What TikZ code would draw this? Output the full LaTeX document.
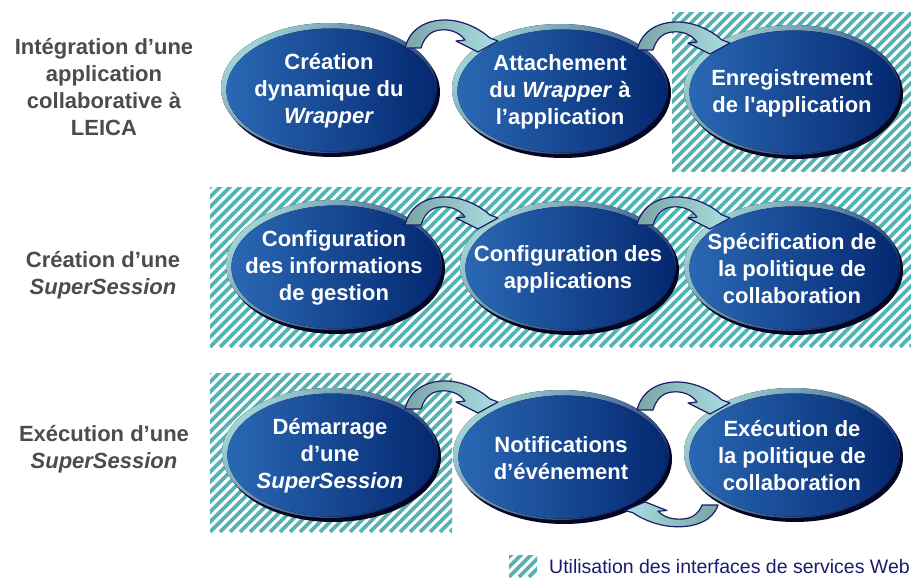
\documentclass[tikz,border=0pt]{standalone}
\usepackage{fontspec}
\setmainfont{Liberation Sans}
\usetikzlibrary{calc}
\definecolor{hatchc}{RGB}{84,180,180}
\definecolor{shadowc}{RGB}{6,6,34}
\definecolor{rimL}{RGB}{160,210,212}
\definecolor{rimD}{RGB}{10,34,110}
\definecolor{innerL}{RGB}{42,104,180}
\definecolor{innerM}{RGB}{12,60,138}
\definecolor{innerR}{RGB}{4,40,112}
\definecolor{arrowL}{RGB}{122,164,166}
\definecolor{arrowR}{RGB}{170,222,226}
\definecolor{arrowline}{RGB}{28,28,104}
\definecolor{labelc}{RGB}{76,76,76}
\definecolor{legendc}{RGB}{28,28,110}
\newcommand\sqt{\XeTeXglyph\XeTeXcharglyph"0027\relax}
\tikzset{
  stage/.style={rectangle, minimum width=224pt, minimum height=150pt, inner sep=0pt,
    text=white, font=\bfseries\fontsize{22}{27}\selectfont, align=center,
    path picture={
      \fill[shadowc] ([xshift=3pt,yshift=-1pt]path picture bounding box.center) ellipse [x radius=108pt, y radius=65pt];
      \fill[top color=rimL, bottom color=rimD, shading angle=45] ([yshift=3pt]path picture bounding box.center) ellipse [x radius=108pt, y radius=65pt];
      \fill[left color=innerL, middle color=innerM, right color=innerR] ([xshift=2pt,yshift=1pt]path picture bounding box.center) ellipse [x radius=104.5pt, y radius=61.5pt];
    }},
  hatchbox/.style={rectangle, inner sep=0pt, fill=white,
    path picture={
      \foreach \k in {-180,-170,...,720}
        \draw[hatchc, line width=3.8pt] ([xshift=\k pt]path picture bounding box.south west) -- ++(240pt,240pt);
    }},
  rowlabel/.style={text=labelc, font=\bfseries\fontsize{22}{27}\selectfont, align=center},
  arrowfill/.style={draw=arrowline, line width=1.2pt, line join=round},
  carrow/.pic={
    \path[arrowfill, left color=arrowL, right color=arrowR] (0,0) .. controls (5,-20) and (22,-28) .. (40,-28)
      .. controls (58,-28) and (75,-19) .. (85,-10)
      -- (93,-7) -- (73,4) -- (51,-7) -- (60,-8)
      .. controls (54,-16) and (45,-19) .. (35,-18)
      .. controls (25,-17) and (19,-10) .. (16,0) -- cycle;
  },
  carrowrev/.pic={
    \path[arrowfill, left color=arrowR, right color=arrowL] (0,0) .. controls (-5,15.6) and (-22,21.8) .. (-40,21.8)
      .. controls (-58,21.8) and (-75,14.8) .. (-85,7.8)
      -- (-93,5.5) -- (-73,-3.1) -- (-51,5.5) -- (-60,6.2)
      .. controls (-54,12.5) and (-45,14.8) .. (-35,14)
      .. controls (-25,13.3) and (-19,7.8) .. (-16,0) -- cycle;
  }
}
\begin{document}
\begin{tikzpicture}[x=1pt,y=-1pt]
\useasboundingbox (0,0) rectangle (911,580);
\fill[white] (0,0) rectangle (911,580);

% hatched zones (Web services)
\node[hatchbox, minimum width=239pt, minimum height=159pt] (h1) at (791.5,92.5) {};
\node[hatchbox, minimum width=701pt, minimum height=159pt] (h2) at (560.5,267.5) {};
\node[hatchbox, minimum width=242pt, minimum height=159pt] (h3) at (331,452.5) {};

% row 1
\node[stage] (e11) at (329,91) {Création\\dynamique du\\\textit{Wrapper}};
\node[stage] (e12) at (560,92) {Attachement\\du \textit{Wrapper} à\\l’application};
\node[stage] (e13) at (792,93) {Enregistrement\\de l\sqt application};
% row 2
\node[stage] (e21) at (334,268) {Configuration\\des informations\\de gestion};
\node[stage] (e22) at (568,269) {Configuration des\\applications};
\node[stage] (e23) at (792,269) {Spécification de\\la politique de\\collaboration};
% row 3
\node[stage] (e31) at (330,456) {Démarrage\\d’une\\\textit{SuperSession}};
\node[stage] (e32) at (561,458) {Notifications\\d’événement};
\node[stage] (e33) at (792,456) {Exécution de\\la politique de\\collaboration};

% curved arrows
\pic at ($(e11.center)+(76,-43)$) {carrow};
\pic at ($(e12.center)+(77,-42)$) {carrow};
\pic at ($(e21.center)+(71,-43)$) {carrow};
\pic at ($(e22.center)+(69,-44)$) {carrow};
\pic at ($(e31.center)+(75,-47)$) {carrow};
\pic at ($(e32.center)+(76,-48)$) {carrow};
\pic at ($(e33.center)+(-74,49)$) {carrowrev};

% row labels
\node[rowlabel] (l1) at (104,87) {Intégration d’une\\application\\collaborative à\\LEICA};
\node[rowlabel] (l2) at (103,275) {Création d’une\\\textit{SuperSession}};
\node[rowlabel] (l3) at (104,449) {Exécution d’une\\\textit{SuperSession}};

% legend
\node[hatchbox, minimum width=28pt, minimum height=22pt] (hl) at (523,566) {};
\node[anchor=west, text=legendc, font=\fontsize{19.5}{22}\selectfont, inner sep=0pt] (lt) at (549,567) {Utilisation des interfaces de services Web};
\end{tikzpicture}
\end{document}
